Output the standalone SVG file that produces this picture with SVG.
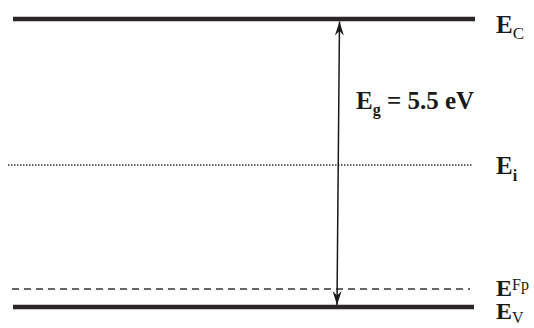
<svg xmlns="http://www.w3.org/2000/svg" width="534" height="328" viewBox="0 0 534 328">
<style>
.band{stroke:#2b2727;stroke-width:4.5;fill:none}
.lbl{font-family:"Liberation Serif","Times New Roman",serif;font-weight:bold;font-size:25px;fill:#1a1a1a}
.sub{font-family:"Liberation Serif","Times New Roman",serif;font-weight:normal;font-size:17px;fill:#1a1a1a}
.subb{font-family:"Liberation Serif","Times New Roman",serif;font-weight:bold;font-size:16px;fill:#1a1a1a}
</style>
<defs>
<marker id="ah" viewBox="-15 -6 16 12" refX="0" refY="0" markerWidth="16" markerHeight="12" markerUnits="userSpaceOnUse" orient="auto-start-reverse">
<path d="M0,0 L-14,-4.5 L-9.5,0 L-14,4.5 Z" fill="#1a1a1a"/>
</marker>
</defs>
<rect width="534" height="328" fill="#ffffff"/>
<g id="Ec">
<line class="band" x1="13" y1="19" x2="475" y2="19"/>
<text class="lbl" x="496" y="33">E<tspan class="sub" dy="6">C</tspan></text>
</g>
<g id="Ei">
<line x1="8" y1="165" x2="472" y2="165" stroke="#333" stroke-width="1.5" stroke-dasharray="1.5 1.5"/>
<text class="lbl" x="496" y="174">E<tspan class="subb" dy="7">i</tspan></text>
</g>
<g id="EFp">
<line x1="12" y1="289" x2="470" y2="289" stroke="#333" stroke-width="1.6" stroke-dasharray="7 5"/>
<text class="lbl" x="496" y="296" style="font-size:24px">E<tspan class="sub" dy="-6" style="font-size:16px">Fp</tspan></text>
</g>
<g id="Ev">
<line class="band" x1="13" y1="307" x2="474" y2="307"/>
<text class="lbl" x="496" y="319" style="font-size:24px">E<tspan class="sub" dy="4" style="font-size:16px">V</tspan></text>
</g>
<g id="connectors">
<line x1="339.5" y1="21.5" x2="337" y2="305" stroke="#1a1a1a" stroke-width="1.5" marker-start="url(#ah)" marker-end="url(#ah)"/>
</g>
<g id="gap">
<text class="lbl" x="356" y="109">E<tspan class="subb" dy="6">g</tspan><tspan dy="-6"> = 5.5 eV</tspan></text>
</g>
</svg>
